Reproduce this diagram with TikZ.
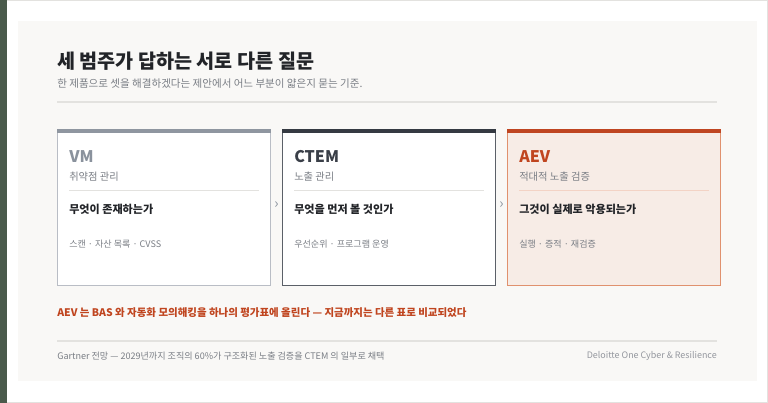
\documentclass[tikz,border=0pt]{standalone}
\usepackage{fontspec}
\setmainfont{Noto Sans CJK KR}
\usepackage{tikz}
\definecolor{barGreen}{HTML}{4A5A4B}
\definecolor{panelBg}{HTML}{F9F8F6}
\definecolor{rule}{HTML}{E3E2DF}
\definecolor{ink}{HTML}{222428}
\definecolor{muted}{HTML}{7A7E85}
\definecolor{vmTop}{HTML}{8F96A0}
\definecolor{vmLine}{HTML}{B9BDC5}
\definecolor{vmText}{HTML}{8A929D}
\definecolor{ctemTop}{HTML}{353A42}
\definecolor{ctemLine}{HTML}{5B6068}
\definecolor{ctemText}{HTML}{3A3F48}
\definecolor{aevTop}{HTML}{BF4521}
\definecolor{aevLine}{HTML}{E0916E}
\definecolor{aevFill}{HTML}{F7ECE6}
\definecolor{aevText}{HTML}{C0451F}

\begin{document}
\begin{tikzpicture}[x=0.75pt,y=-0.75pt,
    txt/.style={anchor=west,inner sep=0pt},
    cardhead/.style={txt,font=\fontsize{12}{14}\selectfont\bfseries},
    cardsub/.style={txt,text=muted,font=\fontsize{7.7}{9}\selectfont},
    question/.style={txt,text=ink,font=\fontsize{8.3}{10}\selectfont\bfseries},
    tags/.style={txt,text=muted,font=\fontsize{6.8}{8}\selectfont},
    chevron/.style={inner sep=0pt,text=vmText,font=\fontsize{10.5}{11}\selectfont}]
        \useasboundingbox (0,0) rectangle (768,403);
        \fill[white] (0,0) rectangle (768,403);
        \draw[rule,line width=0.75pt] (0,0.5) -- (767.5,0.5) -- (767.5,402.5) -- (0,402.5);
        \fill[barGreen] (0,0) rectangle (7,403);
        \fill[panelBg] (18,21) rectangle (757,381);
        % heading
        \node[txt,text=ink,font=\fontsize{14.7}{16}\selectfont\bfseries] (title) at (57,61.5) {세 범주가 답하는 서로 다른 질문};
        \node[txt,text=muted,font=\fontsize{7.9}{10}\selectfont] (subtitle) at (57,83.5) {한 제품으로 셋을 해결하겠다는 제안에서 어느 부분이 얇은지 묻는 기준.};
        \draw[rule,line width=0.9pt] (57,102) -- (717,102);
        % VM card
        \draw[vmLine,fill=white,line width=1pt] (57.5,129.5) rectangle (270.5,285.5);
        \fill[vmTop] (57,129) rectangle (271,133);
        \node[cardhead,text=vmText] (vm) at (69,157) {VM};
        \node[cardsub] (vmsub) at (69,177) {취약점 관리};
        \draw[rule,line width=0.6pt] (69,190) -- (259,190);
        \node[question] (vmq) at (69,209.5) {무엇이 존재하는가};
        \node[tags] (vmtags) at (69,244) {스캔 · 자산 목록 · CVSS};
        % CTEM card
        \draw[ctemLine,fill=white,line width=1pt] (282.5,129.5) rectangle (495.5,285.5);
        \fill[ctemTop] (282,129) rectangle (496,133);
        \node[cardhead,text=ctemText] (ctem) at (294,157) {CTEM};
        \node[cardsub] (ctemsub) at (294,177) {노출 관리};
        \draw[rule,line width=0.6pt] (294,190) -- (484,190);
        \node[question] (ctemq) at (294,209.5) {무엇을 먼저 볼 것인가};
        \node[tags] (ctemtags) at (294,244) {우선순위 · 프로그램 운영};
        % AEV card
        \draw[aevLine,fill=aevFill,line width=1pt] (507.5,129.5) rectangle (720.5,285.5);
        \fill[aevTop] (507,129) rectangle (721,133);
        \node[cardhead,text=aevText] (aev) at (519,157) {AEV};
        \node[cardsub] (aevsub) at (519,177) {적대적 노출 검증};
        \draw[aevLine!40,line width=0.6pt] (519,190) -- (709,190);
        \node[question] (aevq) at (519,209.5) {그것이 실제로 악용되는가};
        \node[tags] (aevtags) at (519,244) {실행 · 증적 · 재검증};
        % chevrons
        \node[chevron] (chevA) at (276.5,205) {›};
        \node[chevron] (chevB) at (501.5,205) {›};
        % bottom
        \node[txt,text=aevText,font=\fontsize{7.85}{10}\selectfont\bfseries] (note) at (57,313) {AEV 는 BAS 와 자동화 모의해킹을 하나의 평가표에 올린다 — 지금까지는 다른 표로 비교되었다};
        \draw[rule,line width=0.9pt] (57,341) -- (717,341);
        \node[txt,text=muted,font=\fontsize{6.8}{8}\selectfont] (source) at (57,356) {Gartner 전망 — 2029년까지 조직의 60\%가 구조화된 노출 검증을 CTEM 의 일부로 채택};
        \node[txt,anchor=east,text=vmLine!80!black,font=\fontsize{6.7}{8}\selectfont] (brand) at (717,356) {Deloitte One Cyber \& Resilience};
    \end{tikzpicture}
\end{document}
